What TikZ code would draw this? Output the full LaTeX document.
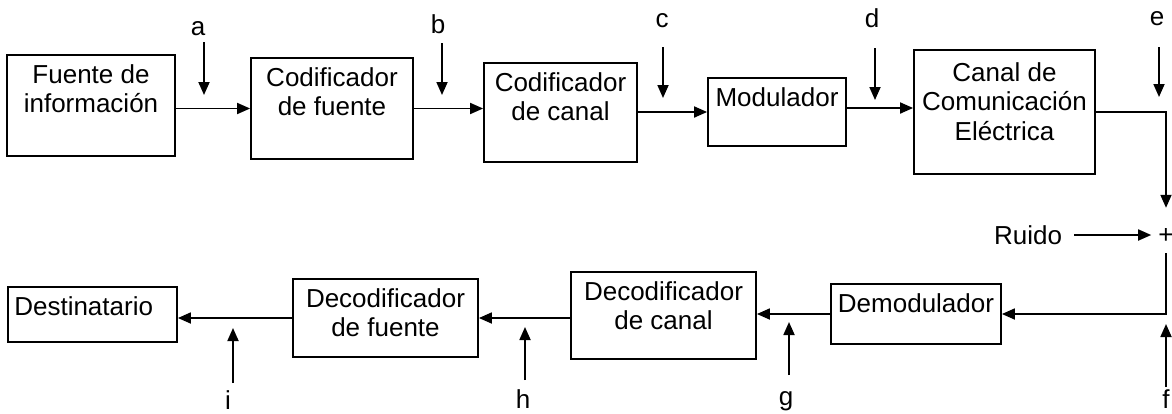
\documentclass[tikz,border=0pt]{standalone}
\usepackage{fontspec}
\setmainfont{Liberation Sans}
\usepackage{tikz}
\usetikzlibrary{arrows.meta}
\usetikzlibrary{positioning}
\tikzstyle{bloque}=[draw,line width=1.8pt,inner sep=0pt]
\tikzstyle{texto}=[anchor=north,align=center,inner sep=0pt,yshift=-10pt]
\tikzstyle{flecha} = [draw,line width=1.8pt,-{Triangle[length=13pt,width=11pt]}]
\tikzstyle{etiq} = [anchor=base,inner sep=0pt]

\begin{document}
\begin{tikzpicture}[x=1pt,y=-1pt,font=\fontsize{26}{29.5}\selectfont]

    \useasboundingbox (0,0) rectangle (1172,413);

    % cadena de transmision
    \node[bloque, minimum width=168pt, minimum height=101pt,
          label={[texto]north:Fuente de\\información}] (fuente) at (91,105.5) {};
    \node[bloque, minimum width=162pt, minimum height=101pt,
          label={[texto]north:Codificador\\de fuente}] (codfuente) at (332,108.5) {};
    \node[bloque, minimum width=153pt, minimum height=99pt,
          label={[texto]north:Codificador\\de canal}] (codcanal) at (560.5,112.5) {};
    \node[bloque, minimum width=138pt, minimum height=68pt,
          label={[texto]north:Modulador}] (modulador) at (777,112) {};
    \node[bloque, minimum width=181pt, minimum height=124pt,
          label={[texto,yshift=-3pt]north:Canal de\\Comunicación\\Eléctrica}] (canal) at (1004.5,112) {};

    % cadena de recepcion
    \node[bloque, minimum width=170pt, minimum height=60pt,
          label={[texto]north:Demodulador}] (demod) at (916,314) {};
    \node[bloque, minimum width=185pt, minimum height=87pt,
          label={[texto]north:Decodificador\\de canal}] (decodcanal) at (663.5,315.5) {};
    \node[bloque, minimum width=185pt, minimum height=78pt,
          label={[texto]north:Decodificador\\de fuente}] (decodfuente) at (385.5,318) {};
    \node[bloque, minimum width=169pt, minimum height=55pt,
          label={[texto,anchor=north west,xshift=7pt]north west:Destinatario}] (dest) at (92.5,314.5) {};

    % suma del ruido
    \node[etiq, inner xsep=7pt, text height=35.7pt, text depth=9.3pt] (suma) at (1166,243.7) {+};
    \node[inner xsep=12pt, inner ysep=0pt] (ruido) at (1028,235) {Ruido};

    \draw[flecha] (codfuente.west -| fuente.east) -- (codfuente.west);
    \draw[flecha] (codfuente.east) -- (codfuente.east -| codcanal.west);
    \draw[flecha] (modulador.west -| codcanal.east) -- (modulador.west);
    \draw[flecha] ([yshift=4pt]modulador.east) -- ([yshift=4pt]canal.west);
    \draw[flecha] (canal.east) -| (suma.north);
    \draw[flecha] (ruido) -- (ruido -| suma.west);
    \draw[flecha] (suma.south) |- (demod.east);
    \draw[flecha] (demod.west) -- (demod.west -| decodcanal.east);
    \draw[flecha] (decodfuente.east -| decodcanal.west) -- (decodfuente.east);
    \draw[flecha] (decodfuente.west) -- (decodfuente.west -| dest.east);

    % puntos de observacion
    \foreach \nom/\xl/\yl/\xf/\ya/\yb in {a/198/35/204/42/95, b/438/33/442/43/95, c/662/27/663/47/98,
                                         d/872/27/875/48/100, e/1157/25/1159/47/97,
                                         f/1166/408/1166/387/324, g/786/405/789/375/322,
                                         h/523/408/525/380/327, i/228/409/233/383/328}
    {
        \node[etiq] (l\nom) at (\xl,\yl) {\nom};
        \coordinate (s\nom) at (\xf,\ya);
        \coordinate (t\nom) at (\xf,\yb);
        \draw[flecha] (s\nom) -- (t\nom);
    }

\end{tikzpicture}
\end{document}
